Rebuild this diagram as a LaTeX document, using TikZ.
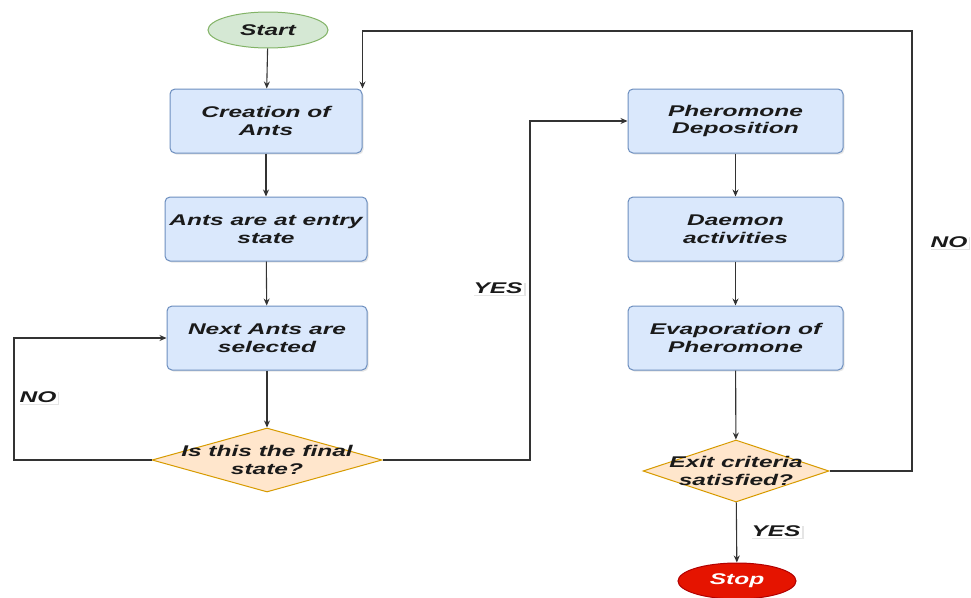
\documentclass[tikz,border=0pt]{standalone}
\usepackage{fontspec}
\setmainfont{Liberation Sans}
\newfontfamily\flowfont[FakeStretch=1.58]{Liberation Sans}
\usetikzlibrary{shapes.geometric,arrows.meta,shadows}

\definecolor{boxfill}{HTML}{DAE8FC}
\definecolor{boxline}{HTML}{6C8EBF}
\definecolor{decfill}{HTML}{FFE6CC}
\definecolor{decline}{HTML}{D79B00}
\definecolor{startfill}{HTML}{D5E8D4}
\definecolor{startline}{HTML}{82B366}
\definecolor{stopfill}{HTML}{E51400}
\definecolor{stopline}{HTML}{B20000}
\definecolor{txt}{HTML}{1A1A1A}
\definecolor{wire}{HTML}{333333}

\tikzset{
  flowtext/.style={font=\flowfont\bfseries\itshape\fontsize{15.5}{17.5}\selectfont, text=txt, align=center},
  proc/.style={flowtext, rectangle, rounded corners=5pt, draw=boxline, fill=boxfill,
    line width=1pt, minimum height=64pt, inner sep=0pt,
    drop shadow={shadow xshift=1.5pt, shadow yshift=-1.5pt, opacity=0.2}},
  decide/.style={diamond, draw=decline, fill=decfill, line width=1pt, inner sep=0pt},
  term/.style={flowtext, ellipse, line width=1pt, inner sep=0pt, minimum width=120pt, minimum height=36pt},
  link/.style={draw=wire, line width=1.1pt, -{Stealth[length=7pt,width=6pt]}},
  tag/.style={flowtext, fill=white, inner sep=1.5pt,
    drop shadow={shadow xshift=1.5pt, shadow yshift=-1.5pt, opacity=0.2}}
}

\begin{document}
\begin{tikzpicture}[x=1pt,y=-1pt]
\clip (0,0) rectangle (971,597);
\fill[white] (0,0) rectangle (971,597);

% terminals
\node[term, draw=startline, fill=startfill] (start) at (268,30) {Start};
\node[term, draw=stopline, fill=stopfill, text=white, minimum width=118pt] (stop) at (737,581) {Stop};

% left column
\node[proc, minimum width=192pt] (create) at (266,121) {Creation of\\Ants};
\node[proc, minimum width=202pt] (entry)  at (266,229) {Ants are at entry\\state};
\node[proc, minimum width=200pt] (next)   at (267,338) {Next Ants are\\selected};
\node[decide, minimum width=230pt, minimum height=64pt] (final) at (267,460) {};
\node[flowtext] at (final) {Is this the final\\state?};

% right column
\node[proc, minimum width=215pt] (depo)  at (735.5,121) {Pheromone\\Deposition};
\node[proc, minimum width=215pt] (daem)  at (735.5,229) {Daemon\\activities};
\node[proc, minimum width=215pt] (evap)  at (735.5,338) {Evaporation of\\Pheromone};
\node[decide, minimum width=186pt, minimum height=62pt] (exit) at (736,471) {};
\node[flowtext] at (exit) {Exit criteria\\satisfied?};

% routing points
\coordinate (loopx) at (14,0);
\coordinate (yesx) at (530,0);
\coordinate (backtop) at (912,31);

% connectors
\draw[link] (start) -- (create);
\draw[link] (create) -- (entry);
\draw[link] (entry) -- (next);
\draw[link] (next) -- (final);
\draw[link] (final.west) -- (final.west -| loopx) |- (next.west);
\draw[link] (final.east) -- (final.east -| yesx) |- (depo.west);
\draw[link] (depo) -- (daem);
\draw[link] (daem) -- (evap);
\draw[link] (evap) -- (exit);
\draw[link] (exit) -- (stop);
\draw[link] (exit.east) -| (backtop) -| (create.north east);

% branch labels
\node[tag] at (38,397) {NO};
\node[tag] at (498,288) {YES};
\node[tag] at (776,531) {YES};
\node[tag, anchor=east] at (969,242) {NO};
\end{tikzpicture}
\end{document}
